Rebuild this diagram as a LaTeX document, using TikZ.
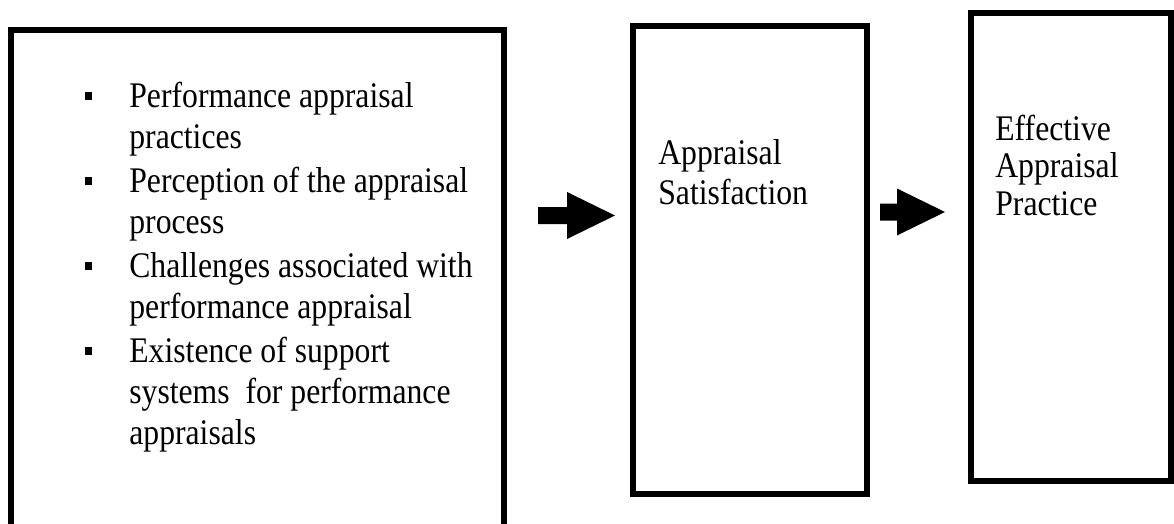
\documentclass[tikz,border=0pt]{standalone}
\usepackage{fontspec}
\setmainfont[FakeStretch=0.88]{Liberation Serif}
\usetikzlibrary{positioning}

% block arrow: start point (left end, middle) and shaft length
\newcommand{\blockarrow}[2]{%
  \fill (#1) ++(0,-8.5) -- ++(#2,0) -- ++(0,-15) -- ++(48,23.5)
    -- ++(-48,23.5) -- ++(0,-15) -- ++(-#2,0) -- cycle;}

\begin{document}
\begin{tikzpicture}[x=0.02cm,y=-0.02cm,
  box node/.style={rectangle,draw,line width=0.12cm,inner sep=0pt},
  line node/.style={anchor=base west,inner sep=0pt,font=\fontsize{20.5}{23}\selectfont},
  bullet node/.style={rectangle,fill,inner sep=0pt,minimum width=0.14cm,minimum height=0.16cm}]

  \useasboundingbox (0,0) rectangle (1174,524);

  % the three boxes
  \node[box node, minimum width=9.86cm, minimum height=10.6cm] (factors) at (257.5,295) {};
  \node[box node, minimum width=4.68cm, minimum height=9.36cm] (satisfaction) at (750,260) {};
  \node[box node, minimum width=4.0cm, minimum height=9.36cm] (practice) at (1071,247) {};

  % list in the first box
  \foreach \y in {107,192,277,362}
    \node[bullet node] at (88.5,\y-11) {};
  \foreach \y/\t [count=\i] in {107/Performance appraisal, 148/practices,
      192/Perception of the appraisal, 233/process,
      277/Challenges associated with, 318/performance appraisal,
      362/Existence of support, 403/systems~ for performance, 444/appraisals}
    \node[line node] (f\i) at (129,\y) {\t};

  % text of the other boxes
  \node[line node] (s1) at (658,164) {Appraisal};
  \node[line node] (s2) at (658,204) {Satisfaction};
  \node[line node] (p1) at (995,140) {Effective};
  \node[line node] (p2) at (995,177) {Appraisal};
  \node[line node] (p3) at (995,215) {Practice};

  % arrows between the boxes
  \coordinate (a1) at (538,215.5);
  \coordinate (a2) at (880,212);
  \blockarrow{a1}{29}
  \blockarrow{a2}{17}
\end{tikzpicture}
\end{document}
